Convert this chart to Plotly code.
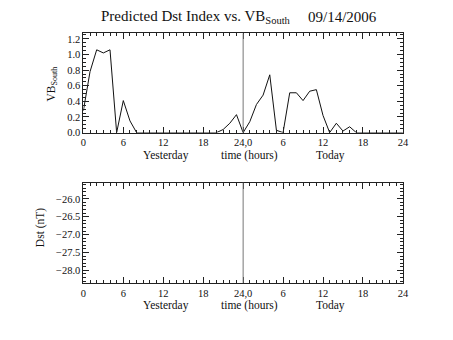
import plotly.graph_objects as go

# Hourly VB_South over the two days (yesterday 0-24, today 24-48)
hours = list(range(0, 49))
vb_south = [0.28, 0.78, 1.06, 1.02, 1.06, 0.0, 0.41, 0.15, 0.0, 0.0,
            0.0, 0.0, 0.0, 0.0, 0.0, 0.0, 0.0, 0.0, 0.0, 0.0,
            0.0, 0.04, 0.12, 0.23, 0.0, 0.14, 0.36, 0.48, 0.74, 0.03,
            0.0, 0.51, 0.51, 0.41, 0.53, 0.55, 0.22, 0.0, 0.12, 0.02,
            0.075, 0.0, 0.0, 0.0, 0.0, 0.0, 0.0, 0.0, 0.0]

# hour-of-day labels for the second day
x_label_alias = {"24": "24,0", "30": "6", "36": "12", "42": "18", "48": "24"}

W, H = 453, 340
FONT = "Liberation Serif"
INK = "#222222"
TICKFONT = dict(family=FONT, size=10.5, color="#111")

fig = go.Figure()
fig.add_trace(go.Scatter(x=hours, y=vb_south, mode="lines",
                         line=dict(color="#111111", width=1),
                         xaxis="x", yaxis="y", showlegend=False))

xdom = [82 / W, 408 / W]
top_dom = [1 - 135 / H, 1 - 34 / H]
bot_dom = [1 - 288 / H, 1 - 186 / H]

def xaxis_style(anchor):
    return dict(domain=xdom, range=[0, 48], anchor=anchor,
                tickmode="linear", tick0=0, dtick=6, labelalias=x_label_alias,
                ticks="inside", ticklen=6, tickcolor=INK, tickwidth=1,
                minor=dict(dtick=1, tick0=0, ticks="inside", ticklen=3,
                           tickcolor=INK, showgrid=False),
                showline=True, linecolor=INK, linewidth=1, mirror="ticks",
                showgrid=False, zeroline=False,
                tickfont=TICKFONT, ticklabelstandoff=0)

def yaxis_style(dom, rng, anchor, t0, dt, minor_dt):
    return dict(domain=dom, range=rng, anchor=anchor,
                tickmode="linear", tick0=t0, dtick=dt, tickformat=".1f",
                ticks="inside", ticklen=6, tickcolor=INK, tickwidth=1,
                minor=dict(tick0=t0, dtick=minor_dt, ticks="inside",
                           ticklen=3, tickcolor=INK, showgrid=False),
                showline=True, linecolor=INK, linewidth=1, mirror="ticks",
                showgrid=False, zeroline=False, tickfont=TICKFONT)

fig.update_layout(
    width=W, height=H,
    margin=dict(l=0, r=0, t=0, b=0),
    paper_bgcolor="white", plot_bgcolor="white",
    xaxis=xaxis_style("y"),
    yaxis=yaxis_style(top_dom, [0, 1.27], "x", 0, 0.2, 0.05),
    xaxis2=xaxis_style("y2"),
    yaxis2=yaxis_style(bot_dom, [-28.35, -25.55], "x2", -28, 0.5, 0.1),
)

# separator between yesterday and today in both panels
for xr, yr in (("x", "y domain"), ("x2", "y2 domain")):
    fig.add_shape(type="line", xref=xr, yref=yr, x0=24, x1=24, y0=0, y1=1,
                  line=dict(color="#777777", width=1))

def px_x(p):
    return p / W

def px_y(p):
    return 1 - p / H

ann = []
ann.append(dict(text="Predicted Dst Index vs. VB<sub>South</sub>",
                x=px_x(98), y=px_y(17), xanchor="left", yanchor="middle",
                font=dict(family=FONT, size=15, color="#111")))
ann.append(dict(text="09/14/2006", x=px_x(346), y=px_y(17),
                xanchor="center", yanchor="middle",
                font=dict(family=FONT, size=15, color="#111")))
for yc in (158, 311):
    for txt, xc in (("Yesterday", 166), ("time (hours)", 252), ("Today", 334)):
        ann.append(dict(text=txt, x=px_x(xc), y=px_y(yc), xanchor="center",
                        yanchor="middle",
                        font=dict(family=FONT, size=11.5, color="#111")))
ann.append(dict(text="VB<sub>South</sub>", x=px_x(50), y=px_y(86),
                textangle=-90, xanchor="center", yanchor="middle",
                font=dict(family=FONT, size=11.5, color="#111")))
ann.append(dict(text="Dst (nT)", x=px_x(39), y=px_y(232),
                textangle=-90, xanchor="center", yanchor="middle",
                font=dict(family=FONT, size=11.5, color="#111")))
for a in ann:
    a.update(xref="paper", yref="paper", showarrow=False)
fig.update_layout(annotations=ann)

fig.write_html("out.html")
